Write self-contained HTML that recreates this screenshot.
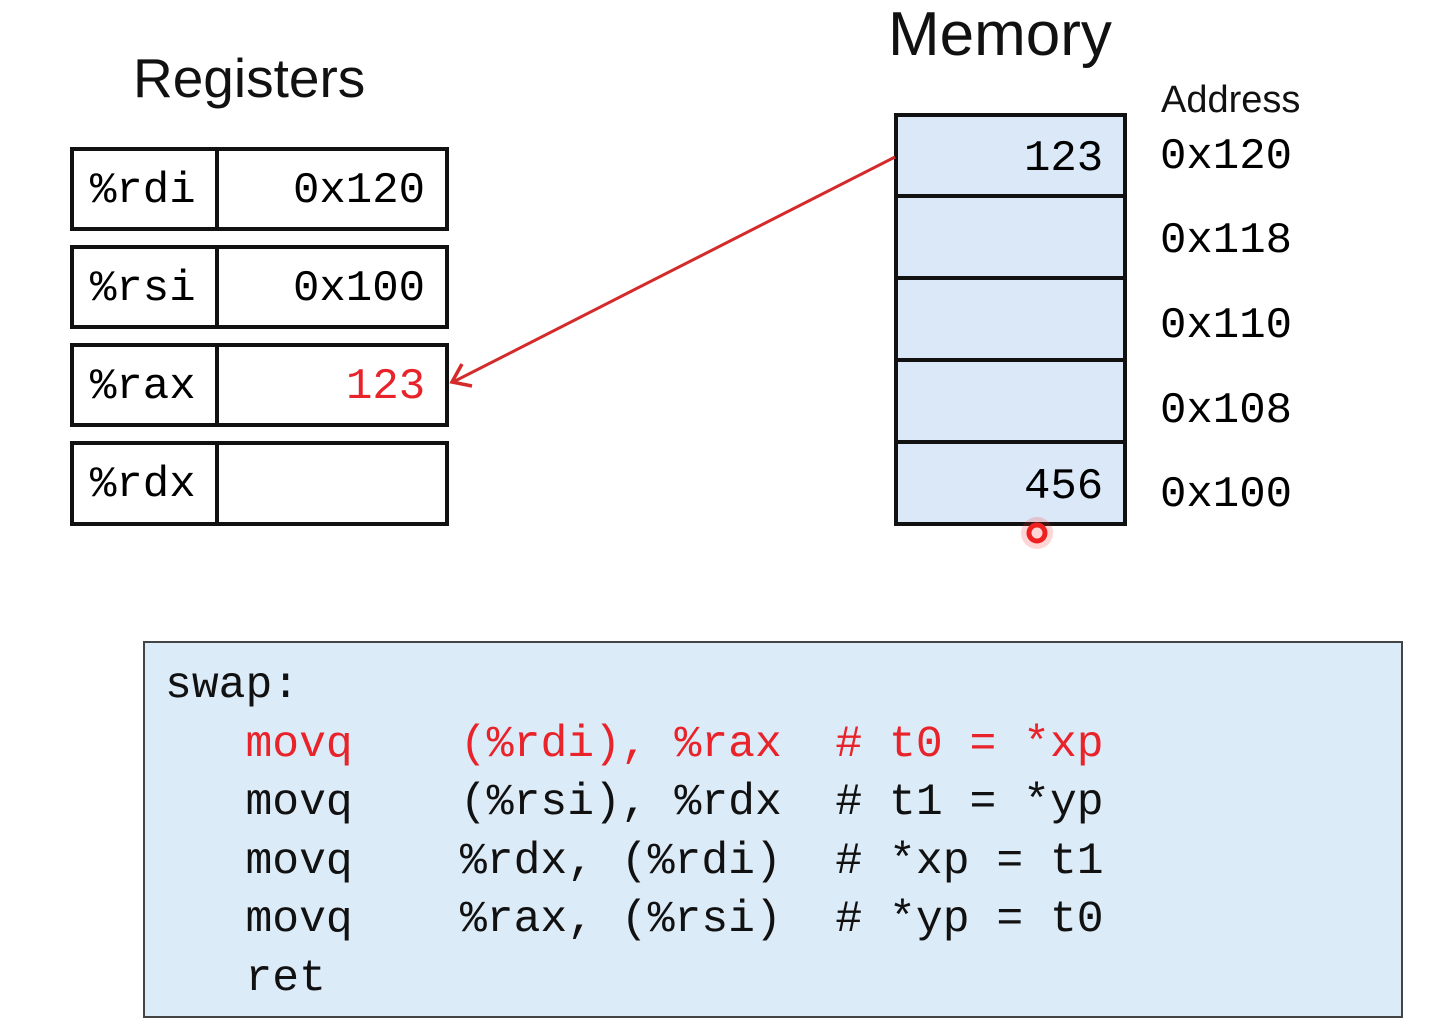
<!DOCTYPE html>
<html><head><meta charset="utf-8"><style>
body{margin:0;width:1450px;height:1034px;background:#fff;overflow:hidden;position:relative;font-family:"Liberation Sans",sans-serif}
.a{position:absolute}
.m{font-family:"Liberation Mono",monospace;font-size:44px;white-space:pre;line-height:1}
.box{position:absolute;border:4px solid #111;box-sizing:border-box}
.red{color:#e8232a}
</style></head><body>
<div class="a" style="left:133px;top:46px;font-size:55px;color:#111">Registers</div>
<div class="a" style="left:888px;top:-1px;font-size:62px;color:#111">Memory</div>
<div class="a" style="left:1161px;top:79px;font-size:38px;color:#111">Address</div>

<!-- registers -->
<div class="box" style="left:70px;top:147px;width:379px;height:84px"></div>
<div class="box" style="left:70px;top:245px;width:379px;height:84px"></div>
<div class="box" style="left:70px;top:343px;width:379px;height:84px"></div>
<div class="box" style="left:70px;top:441px;width:379px;height:85px"></div>
<div class="a" style="left:215px;top:147px;width:4px;height:379px;background:#111"></div>
<div class="a" style="left:70px;top:231px;width:379px;height:14px;background:#fff"></div>
<div class="a" style="left:70px;top:329px;width:379px;height:14px;background:#fff"></div>
<div class="a" style="left:70px;top:427px;width:379px;height:14px;background:#fff"></div>
<div class="a m" style="left:90px;top:169px">%rdi</div>
<div class="a m" style="left:90px;top:267px">%rsi</div>
<div class="a m" style="left:90px;top:365px">%rax</div>
<div class="a m" style="left:90px;top:463px">%rdx</div>
<div class="a m" style="left:293px;top:169px">0x120</div>
<div class="a m" style="left:293px;top:267px">0x100</div>
<div class="a m red" style="left:346px;top:365px">123</div>

<!-- memory -->
<div class="box" style="left:894px;top:113px;width:233px;height:413px;background:#dae8f7"></div>
<div class="a" style="left:894px;top:194px;width:233px;height:4px;background:#111"></div>
<div class="a" style="left:894px;top:276px;width:233px;height:4px;background:#111"></div>
<div class="a" style="left:894px;top:358px;width:233px;height:4px;background:#111"></div>
<div class="a" style="left:894px;top:440px;width:233px;height:4px;background:#111"></div>
<div class="a m" style="left:1024px;top:137px">123</div>
<div class="a m" style="left:1024px;top:465px">456</div>
<div class="a m" style="left:1160px;top:135px">0x120</div>
<div class="a m" style="left:1160px;top:219px">0x118</div>
<div class="a m" style="left:1160px;top:304px">0x110</div>
<div class="a m" style="left:1160px;top:389px">0x108</div>
<div class="a m" style="left:1160px;top:473px">0x100</div>

<svg class="a" style="left:0;top:0" width="1450" height="1034">
<line x1="895" y1="157" x2="455" y2="381" stroke="#d42a2a" stroke-width="3"/>
<polyline points="462,364 452,382 472,386" fill="none" stroke="#d42a2a" stroke-width="3.5"/>
<circle cx="1037" cy="533" r="16" fill="#ff3030" opacity="0.2"/>
<circle cx="1037" cy="533" r="8" fill="none" stroke="#ee2020" stroke-width="5"/>
</svg>

<!-- code -->
<div class="a" style="left:143px;top:641px;width:1260px;height:377px;box-sizing:border-box;border:2px solid #444;background:#dcebf8"></div>
<div class="a m" style="left:165px;top:657px;font-size:44.7px;line-height:58.5px;color:#111">swap:
   <span class="red">movq    (%rdi), %rax  # t0 = *xp</span>
   movq    (%rsi), %rdx  # t1 = *yp
   movq    %rdx, (%rdi)  # *xp = t1
   movq    %rax, (%rsi)  # *yp = t0
   ret</div>
</body></html>
